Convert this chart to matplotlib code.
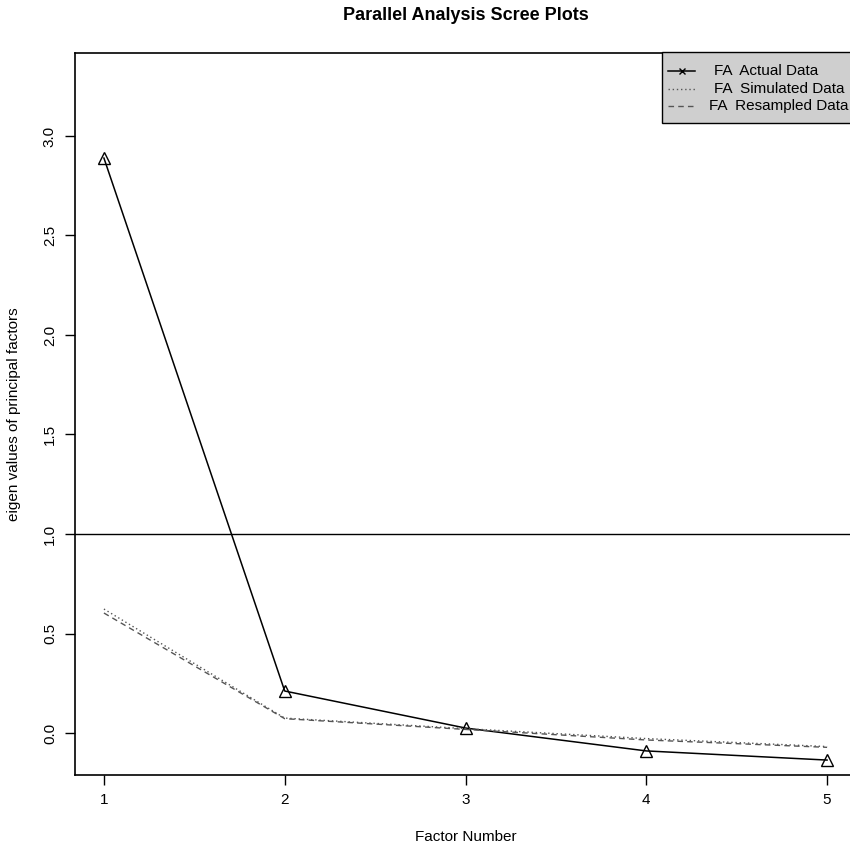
import matplotlib
matplotlib.use("Agg")
import matplotlib.pyplot as plt
from matplotlib.patches import Rectangle
from matplotlib.lines import Line2D

plt.rcParams['font.family'] = ['Liberation Sans', 'DejaVu Sans']

factors = [1, 2, 3, 4, 5]
actual = [2.889, 0.211, 0.025, -0.090, -0.136]
simulated = [0.623, 0.075, 0.022, -0.028, -0.068]
resampled = [0.603, 0.072, 0.018, -0.035, -0.072]
x_ticks = [1, 2, 3, 4, 5]
y_ticks = [0.0, 0.5, 1.0, 1.5, 2.0, 2.5, 3.0]
legend_labels = ["FA  Actual Data", "FA  Simulated Data", "FA  Resampled Data"]

W, H = 850, 844
fig = plt.figure(figsize=(W / 100, H / 100), dpi=100)
L, R, T, B = 75, 856, 53, 775
ax = fig.add_axes([L / W, (H - B) / H, (R - L) / W, (B - T) / H])

ax.plot(factors, actual, color='black', lw=1.1, marker='^', ms=8,
        mfc='none', mec='black', mew=1.0)
ax.plot(factors, simulated, color='#555555', lw=1.0, ls=(0, (1, 2)))
ax.plot(factors, resampled, color='#555555', lw=1.0, ls=(0, (4, 3)))
ax.axhline(1.0, color='black', lw=1.0)

ax.set_xlim(0.84, 5.16)
ax.set_ylim(-0.211, 3.417)
ax.set_xticks(x_ticks)
ax.set_xticklabels([str(v) for v in x_ticks])
ax.set_yticks(y_ticks)
ax.set_yticklabels([f"{v:.1f}" for v in y_ticks], rotation=90, va='center')
ax.tick_params(direction='out', length=7, width=1, labelsize=11, pad=6)
for s in ax.spines.values():
    s.set_linewidth(1.2)

fig.text((L + R) / 2 / W, 1 - 837 / H, "Factor Number", fontsize=11,
         ha='center', va='center')
fig.text(14 / W, 1 - ((T + B) / 2) / H, "eigen values of principal factors",
         fontsize=11, ha='center', va='center', rotation=90)
fig.text((L + R) / 2 / W, 1 - 15 / H, "Parallel Analysis Scree Plots",
         fontsize=13, fontweight='bold', ha='center', va='center')

# legend drawn manually (top-right, partially outside image like reference)
aw, ah = R - L, B - T
def axx(px):
    return (px - L) / aw
def axy(py):
    return (B - py) / ah

rect = Rectangle((axx(662), axy(123)), axx(860) - axx(662), axy(52) - axy(123),
                 transform=ax.transAxes, facecolor='#cfcfcf', edgecolor='black',
                 lw=1.0, clip_on=False, zorder=5)
ax.add_patch(rect)
rows = [71, 89, 106]
styles = [dict(color='black', ls='-', lw=1.1),
          dict(color='#555555', ls=(0, (1, 2)), lw=1.0),
          dict(color='#555555', ls=(0, (4, 3)), lw=1.0)]
text_x = [714, 714, 709]
for r, st, lab, tx in zip(rows, styles, legend_labels, text_x):
    ln = Line2D([axx(668), axx(695)], [axy(r), axy(r)], transform=ax.transAxes,
                clip_on=False, zorder=6, **st)
    ax.add_line(ln)
    ax.text(axx(tx), axy(r), lab, transform=ax.transAxes, fontsize=11,
            va='center', ha='left', zorder=7, clip_on=False)
ax.plot([axx(681.5)], [axy(rows[0])], transform=ax.transAxes, marker='x',
        color='black', ms=5, mew=1.0, clip_on=False, zorder=7)

fig.savefig("out.png", dpi=100)
